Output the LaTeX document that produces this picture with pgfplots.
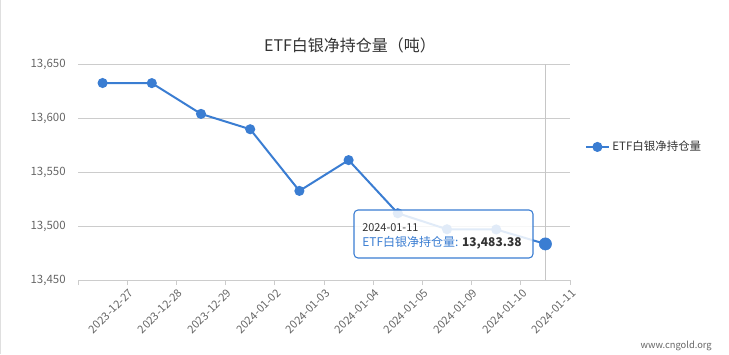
\documentclass[border=0pt]{standalone}
\usepackage{pgfplots}
\pgfplotsset{compat=1.18}
\usepackage{fontspec}
\setmainfont{Noto Sans CJK SC}
\definecolor{lineblue}{HTML}{3A7DD2}
\definecolor{txt}{HTML}{333333}
\definecolor{ticktxt}{HTML}{666666}
\definecolor{gridc}{HTML}{CCCCCC}
\begin{document}
\begin{tikzpicture}[x=0.75pt,y=0.75pt]
\path[use as bounding box] (0,0) rectangle (729,354);
\draw[gray!25] (0.5,0) -- (0.5,354);
\node[font=\fontsize{12}{14}\selectfont, text=txt] at (350,309) {ETF白银净持仓量（吨）};
\begin{axis}[
  at={(58.5pt,55.5pt)}, anchor=south west,
  width=369pt, height=162pt, scale only axis,
  xmin=-0.5, xmax=9.5, ymin=13450, ymax=13650,
  axis x line*=bottom, axis y line*=left,
  y axis line style={draw=none},
  x axis line style={draw=gridc, -},
  xtick={-0.5,0.5,1.5,2.5,3.5,4.5,5.5,6.5,7.5,8.5,9.5},
  xticklabels={,2023-12-27,2023-12-28,2023-12-29,2024-01-02,2024-01-03,2024-01-04,2024-01-05,2024-01-09,2024-01-10,2024-01-11},
  x tick label style={rotate=45, anchor=north east, font=\fontsize{8.3}{9}\selectfont, text=ticktxt, inner sep=1pt, yshift=-1pt},
  ytick={13450,13500,13550,13600,13650},
  scaled y ticks=false,
  ymajorgrids, grid style={gridc, line width=0.6pt},
  y tick label style={font=\fontsize{8.6}{10}\selectfont, text=ticktxt, xshift=-2pt,
    /pgf/number format/.cd, fixed, 1000 sep={,}, assume math mode=true},
  ytick style={draw=none},
  xtick style={draw=gridc, line width=0.6pt},
  tick align=outside, major tick length=3.75pt,
  clip=false,
  legend style={at={(1.03,0.616)}, anchor=west, draw=none, fill=none, font=\fontsize{8.6}{10}\selectfont, text=txt, inner sep=0pt},
  legend cell align=left,
]
\draw[gray!45, line width=0.6pt] (axis cs:9,13450) -- (axis cs:9,13650);
\addplot[color=lineblue, line width=1.5pt, mark=*, mark size=3pt, mark options={fill=lineblue, draw=lineblue}]
  coordinates {(0,13632.4) (1,13632.3) (2,13603.8) (3,13589.6) (4,13532.5) (5,13561.0) (6,13511.8) (7,13497.0) (8,13496.8) (9,13483.38)};
\addlegendentry{ETF白银净持仓量}
\addplot[forget plot, only marks, mark=*, mark size=4.6pt, mark options={fill=lineblue, draw=lineblue}]
  coordinates {(9,13483.38)};
\end{axis}
\filldraw[fill=white, fill opacity=0.85, draw=lineblue, line width=0.8pt, rounded corners=3pt] (354,96) rectangle (533,144);
\node[anchor=west, font=\fontsize{8.2}{9}\selectfont, text=txt, inner sep=0pt] at (362,126) {2024-01-11};
\node[anchor=west, font=\fontsize{9}{10}\selectfont, inner sep=0pt] at (362,111) {\textcolor{lineblue}{ETF白银净持仓量:} \textcolor{txt}{\textbf{13,483.38}}};
\node[anchor=east, font=\fontsize{7}{8}\selectfont, text=ticktxt, inner sep=0pt] at (712,8) {www.cngold.org};
\end{tikzpicture}
\end{document}
